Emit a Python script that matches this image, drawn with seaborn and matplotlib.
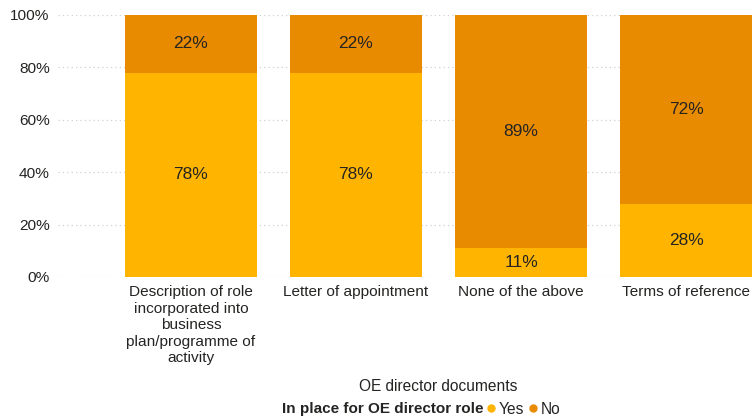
import matplotlib
matplotlib.use("Agg")
import matplotlib.pyplot as plt
from matplotlib.lines import Line2D
import seaborn as sns
import pandas as pd

categories = [
    "Description of role\nincorporated into\nbusiness\nplan/programme of\nactivity",
    "Letter of appointment",
    "None of the above",
    "Terms of reference",
]
yes_pct = [78, 78, 11, 28]
no_pct = [22, 22, 89, 72]

YES_COLOR = "#FFB400"
NO_COLOR = "#E88B00"
TEXT_COLOR = "#252423"

sns.set_theme(style="white")
plt.rcParams["font.family"] = ["Liberation Sans", "DejaVu Sans"]

df = pd.DataFrame({
    "category": categories,
    "Yes": yes_pct,
    "No": no_pct,
})
df["total"] = df["Yes"] + df["No"]

fig = plt.figure(figsize=(7.53, 4.18), dpi=100)
ax = fig.add_axes([58 / 753, 1 - 277 / 418, 695 / 753, 262 / 418])

# stacked bars: full height in "No" colour, "Yes" share drawn over it
sns.barplot(data=df, x="category", y="total", color=NO_COLOR, width=0.8,
            saturation=1, ax=ax, order=categories, linewidth=0)
sns.barplot(data=df, x="category", y="Yes", color=YES_COLOR, width=0.8,
            saturation=1, ax=ax, order=categories, linewidth=0)

yes_bars = ax.containers[1]
for bar_yes, y, n in zip(yes_bars, yes_pct, no_pct):
    x = bar_yes.get_x() + bar_yes.get_width() / 2
    ax.text(x, y / 2, f"{y}%", ha="center", va="center", fontsize=12.5,
            color=TEXT_COLOR)
    ax.text(x, y + n / 2, f"{n}%", ha="center", va="center", fontsize=12.5,
            color=TEXT_COLOR)

ax.set_ylim(0, 100)
ax.set_xlim(-0.806, 3.406)
ax.set_yticks([0, 20, 40, 60, 80, 100])
ax.set_yticklabels([f"{v}%" for v in [0, 20, 40, 60, 80, 100]])
ax.yaxis.grid(True, linestyle=(0, (1, 2.5)), color="#D0D0D0", linewidth=0.9)
ax.set_axisbelow(True)
for s in ax.spines.values():
    s.set_visible(False)
ax.tick_params(axis="both", length=0, labelsize=11.1, colors=TEXT_COLOR)
ax.tick_params(axis="y", pad=6)
ax.tick_params(axis="x", pad=6)
for lbl in ax.get_xticklabels():
    lbl.set_linespacing(1.22)
ax.set_ylabel("")
ax.set_xlabel("OE director documents", fontsize=11.2, color=TEXT_COLOR)
ax.xaxis.set_label_coords((438 - 58) / 695, -(379 - 277) / 262)

fig.text(483 / 753, 1 - 409 / 418, "In place for OE director role",
         ha="right", va="center", fontsize=11, fontweight="bold",
         color=TEXT_COLOR)
handles = [
    Line2D([], [], marker="o", linestyle="", color=YES_COLOR, markersize=5),
    Line2D([], [], marker="o", linestyle="", color=NO_COLOR, markersize=5),
]
fig.legend(handles, ["Yes", "No"], loc="center left",
           bbox_to_anchor=(487 / 753, 1 - 409 / 418), ncol=2, frameon=False,
           fontsize=11.2, handlelength=0.5, handletextpad=0.25,
           columnspacing=0.35, borderpad=0, borderaxespad=0,
           labelcolor=TEXT_COLOR)

fig.savefig("out.png", dpi=100)
